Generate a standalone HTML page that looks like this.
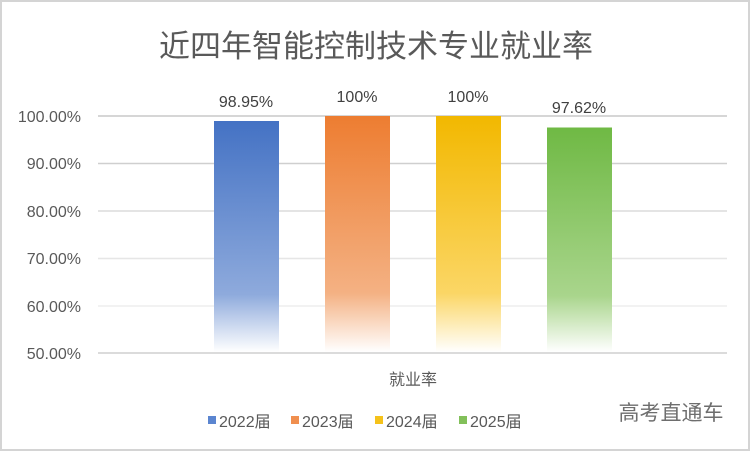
<!DOCTYPE html>
<html><head><meta charset="utf-8"><style>
html,body{margin:0;padding:0;background:#fff;}
svg{display:block;}
text{font-family:"Liberation Sans","Noto Sans CJK SC",sans-serif;}
</style></head><body>
<svg width="752" height="452" viewBox="0 0 752 452" xmlns="http://www.w3.org/2000/svg">
<defs>
<linearGradient id="gb" x1="0" y1="0" x2="0" y2="1"><stop offset="0" stop-color="#4472c4"/><stop offset="0.75" stop-color="#8eaadc"/><stop offset="1" stop-color="#ffffff"/></linearGradient>
<linearGradient id="go" x1="0" y1="0" x2="0" y2="1"><stop offset="0" stop-color="#ed7d31"/><stop offset="0.75" stop-color="#f4b183"/><stop offset="1" stop-color="#ffffff"/></linearGradient>
<linearGradient id="gy" x1="0" y1="0" x2="0" y2="1"><stop offset="0" stop-color="#f2b800"/><stop offset="0.75" stop-color="#fbd665"/><stop offset="1" stop-color="#ffffff"/></linearGradient>
<linearGradient id="gg" x1="0" y1="0" x2="0" y2="1"><stop offset="0" stop-color="#6fb944"/><stop offset="0.75" stop-color="#a9d58c"/><stop offset="1" stop-color="#ffffff"/></linearGradient>
</defs>
<rect x="1" y="1" width="748" height="449" fill="#fff" stroke="#d4d4d4" stroke-width="2"/>
<text x="376" y="57" font-size="31" fill="#595959" text-anchor="middle">近四年智能控制技术专业就业率</text>
<g stroke-width="1.5">
<line x1="98" x2="727" y1="116" y2="116" stroke="#c8c8c8"/>
<line x1="98" x2="727" y1="163.5" y2="163.5" stroke="#cfcfcf"/>
<line x1="98" x2="727" y1="211" y2="211" stroke="#dcdcdc"/>
<line x1="98" x2="727" y1="258.5" y2="258.5" stroke="#e6e6e6"/>
<line x1="98" x2="727" y1="306" y2="306" stroke="#eeeeee"/>
<line x1="98" x2="727" y1="353" y2="353" stroke="#cfcfcf"/>
</g>
<g font-size="16" fill="#595959" text-anchor="end">
<text x="81" y="122">100.00%</text>
<text x="81" y="169">90.00%</text>
<text x="81" y="217">80.00%</text>
<text x="81" y="264">70.00%</text>
<text x="81" y="312">60.00%</text>
<text x="81" y="359">50.00%</text>
</g>
<rect x="214" y="121" width="65" height="231" fill="url(#gb)"/>
<rect x="325" y="116" width="65" height="236" fill="url(#go)"/>
<rect x="436" y="116" width="65" height="236" fill="url(#gy)"/>
<rect x="547" y="127.5" width="65" height="224.5" fill="url(#gg)"/>
<g font-size="16" fill="#404040" text-anchor="middle">
<text x="246" y="107">98.95%</text>
<text x="357" y="102">100%</text>
<text x="468" y="102">100%</text>
<text x="579" y="113">97.62%</text>
</g>
<text x="413" y="385" font-size="16" fill="#595959" text-anchor="middle">就业率</text>
<g font-size="16" fill="#595959">
<rect x="208" y="416" width="8" height="8" fill="#5b85d0"/><text x="219" y="427">2022届</text>
<rect x="291" y="416" width="8" height="8" fill="#f08f4f"/><text x="302" y="427">2023届</text>
<rect x="375" y="416" width="8" height="8" fill="#f5c21a"/><text x="386" y="427">2024届</text>
<rect x="459" y="416" width="8" height="8" fill="#82c05a"/><text x="470" y="427">2025届</text>
</g>
<text x="671" y="420" font-size="21" fill="#6e6e6e" text-anchor="middle">高考直通车</text>
</svg>
</body></html>
